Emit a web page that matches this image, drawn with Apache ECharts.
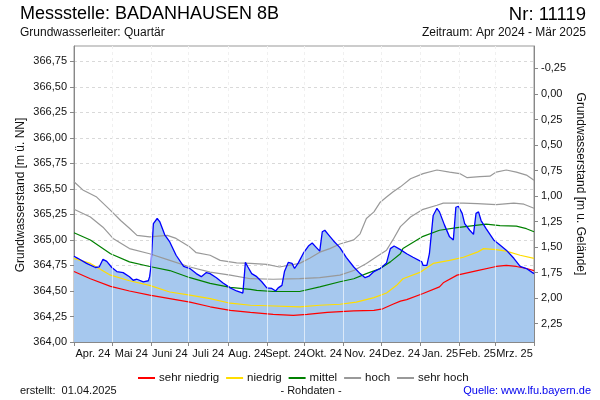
<!DOCTYPE html>
<html>
<head>
<meta charset="utf-8">
<script src="https://cdn.jsdelivr.net/npm/echarts@6/dist/echarts.min.js"></script>
<style>html,body{margin:0;padding:0;background:#fff}#c{width:600px;height:400px}</style>
</head>
<body>
<div id="c"></div>
<script>
// Days counted from 1 April 2024
const monthStarts = [0, 30, 61, 91, 122, 153, 183, 214, 244, 275, 306, 334, 365];
const monthLabels = ['Apr. 24', 'Mai 24', 'Juni 24', 'Juli 24', 'Aug. 24', 'Sept. 24', 'Okt. 24', 'Nov. 24', 'Dez. 24', 'Jan. 25', 'Feb. 25', 'Mrz. 25'];
const leftTicks = [364.00, 364.25, 364.50, 364.75, 365.00, 365.25, 365.50, 365.75, 366.00, 366.25, 366.50, 366.75];
const rightTicks = [-0.25, 0.00, 0.25, 0.50, 0.75, 1.00, 1.25, 1.50, 1.75, 2.00, 2.25];
const groundLevel = 366.43;

// Measured groundwater level (m ü. NN)
const levelDays = [0, 3, 10, 17, 20, 23, 26, 30, 34, 39, 44, 47, 50, 55, 59, 60, 61, 63, 66, 68, 72, 76, 81, 87, 92, 97, 101, 105, 108, 113, 118, 124, 129, 134, 135, 136, 138, 141, 145, 149, 153, 157, 160, 162, 165, 167, 170, 173, 175, 178, 182, 186, 189, 192, 195, 197, 199, 202, 206, 211, 216, 222, 227, 231, 234, 238, 243, 248, 251, 254, 259, 264, 269, 276, 277, 280, 282, 285, 288, 290, 294, 298, 301, 303, 305, 308, 310, 314, 317, 319, 321, 323, 327, 333, 338, 343, 349, 354, 359, 365];
const levelValues = [364.84, 364.82, 364.77, 364.73, 364.735, 364.81, 364.79, 364.73, 364.69, 364.68, 364.64, 364.605, 364.615, 364.59, 364.60, 364.64, 364.735, 365.16, 365.21, 365.18, 365.05, 364.98, 364.85, 364.74, 364.72, 364.67, 364.64, 364.68, 364.67, 364.63, 364.58, 364.53, 364.50, 364.48, 364.48, 364.78, 364.735, 364.67, 364.64, 364.59, 364.53, 364.525, 364.50, 364.53, 364.555, 364.69, 364.78, 364.77, 364.72, 364.775, 364.87, 364.94, 364.97, 364.93, 364.89, 365.08, 365.095, 365.05, 364.99, 364.925, 364.83, 364.735, 364.67, 364.63, 364.645, 364.69, 364.72, 364.775, 364.915, 364.94, 364.905, 364.865, 364.83, 364.785, 364.75, 364.75, 364.865, 365.24, 365.31, 365.275, 365.145, 365.03, 365.00, 365.32, 365.33, 365.26, 365.16, 365.095, 365.055, 365.26, 365.275, 365.19, 365.11, 365.00, 364.95, 364.90, 364.82, 364.74, 364.72, 364.67];

// Reference lines
const sehrHochDays = [0, 7, 18, 29, 37, 44, 50, 60, 74, 81, 92, 97, 108, 116, 129, 140, 153, 163, 179, 187, 195, 203, 211, 222, 227, 232, 238, 243, 248, 253, 259, 267, 277, 288, 298, 306, 312, 322, 330, 335, 343, 351, 359, 365];
const sehrHochValues = [365.57, 365.49, 365.42, 365.29, 365.19, 365.115, 365.045, 365.03, 365.045, 365.015, 364.93, 364.875, 364.85, 364.80, 364.775, 364.77, 364.76, 364.735, 364.77, 364.82, 364.88, 364.915, 364.96, 365.00, 365.06, 365.21, 365.275, 365.37, 365.42, 365.47, 365.52, 365.60, 365.65, 365.685, 365.665, 365.65, 365.61, 365.62, 365.625, 365.665, 365.685, 365.665, 365.635, 365.585];
const hochDays = [0, 13, 23, 31, 44, 60, 76, 92, 108, 124, 140, 158, 179, 195, 211, 222, 232, 240, 248, 251, 253, 259, 267, 277, 288, 293, 309, 320, 335, 349, 357, 365];
const hochValues = [365.30, 365.225, 365.125, 365.015, 364.915, 364.865, 364.80, 364.735, 364.685, 364.655, 364.62, 364.615, 364.62, 364.63, 364.655, 364.70, 364.77, 364.835, 364.90, 364.96, 365.00, 365.13, 365.225, 365.30, 365.34, 365.36, 365.36, 365.355, 365.345, 365.36, 365.35, 365.31];
const mittelDays = [0, 13, 29, 44, 60, 76, 92, 108, 124, 140, 145, 158, 179, 195, 211, 222, 232, 243, 251, 259, 261, 277, 290, 304, 317, 327, 338, 351, 359, 365];
const mittelValues = [365.07, 365.00, 364.865, 364.785, 364.74, 364.70, 364.63, 364.575, 364.535, 364.515, 364.505, 364.495, 364.495, 364.54, 364.59, 364.62, 364.67, 364.72, 364.785, 364.865, 364.915, 365.035, 365.095, 365.12, 365.14, 365.155, 365.14, 365.135, 365.11, 365.08];
const niedrigDays = [0, 13, 29, 44, 60, 76, 92, 108, 124, 140, 153, 179, 195, 211, 224, 238, 248, 256, 261, 275, 285, 298, 309, 320, 325, 335, 343, 354, 365];
const niedrigValues = [364.82, 364.77, 364.655, 364.60, 364.555, 364.49, 364.46, 364.425, 364.38, 364.36, 364.355, 364.345, 364.36, 364.37, 364.39, 364.435, 364.48, 364.555, 364.62, 364.685, 364.77, 364.80, 364.83, 364.88, 364.915, 364.905, 364.89, 364.85, 364.82];
const sehrNiedrigDays = [0, 13, 29, 44, 60, 76, 92, 108, 124, 140, 158, 174, 185, 201, 222, 238, 245, 253, 259, 264, 277, 290, 293, 304, 320, 335, 343, 351, 359, 365];
const sehrNiedrigValues = [364.69, 364.62, 364.545, 364.50, 364.46, 364.425, 364.39, 364.345, 364.31, 364.29, 364.27, 364.26, 364.27, 364.29, 364.305, 364.31, 364.325, 364.37, 364.40, 364.415, 364.475, 364.54, 364.58, 364.655, 364.70, 364.74, 364.75, 364.74, 364.72, 364.70];

const FONT = "'Liberation Sans', Arial, sans-serif";
const pairs = (d, v) => d.map((x, i) => [x, v[i]]);
const fmt = v => v.toFixed(2).replace('.', ',');
const monthMids = monthLabels.map((_, i) => (monthStarts[i] + monthStarts[i + 1]) / 2);

const chart = echarts.init(document.getElementById('c'), null, {renderer: 'canvas'});

function refLine(name, color, days, vals) {
  return {
    name: name, type: 'line', data: pairs(days, vals), showSymbol: false, symbol: 'none',
    z: 3, lineStyle: {color: color, width: 1.2}, itemStyle: {color: color}, silent: true
  };
}

chart.setOption({
  animation: false,
  textStyle: {fontFamily: FONT},
  grid: {left: 74, top: 46, width: 460, height: 296, show: true, borderColor: '#999', borderWidth: 1, backgroundColor: 'transparent'},
  xAxis: {
    type: 'value', min: 0, max: 365,
    axisLine: {onZero: false, lineStyle: {color: '#888'}},
    axisTick: {customValues: monthStarts, length: 4, lineStyle: {color: '#888'}},
    axisLabel: {customValues: monthMids, margin: 6, fontSize: 11, color: '#111', fontFamily: FONT,
      formatter: v => { const i = monthMids.findIndex(m => Math.abs(m - v) < 0.01); return i >= 0 ? monthLabels[i] : ''; }},
    splitLine: {show: true, lineStyle: {color: '#d9d9d9', type: [3, 3], width: 1}}
  },
  yAxis: [{
    type: 'value', min: 364, max: 366.9,
    axisLine: {show: true, onZero: false, lineStyle: {color: '#888'}},
    axisTick: {show: true, customValues: leftTicks, length: 4, lineStyle: {color: '#888'}},
    axisLabel: {customValues: leftTicks, formatter: fmt, fontSize: 11, color: '#111', margin: 7, fontFamily: FONT},
    splitLine: {show: true, lineStyle: {color: '#d9d9d9', type: [3, 3], width: 1}}
  }, {
    type: 'value', min: groundLevel - 366.9, max: groundLevel - 364, inverse: true, position: 'right',
    axisLine: {show: true, onZero: false, lineStyle: {color: '#888'}},
    axisTick: {show: true, customValues: rightTicks, length: 4, lineStyle: {color: '#888'}},
    axisLabel: {customValues: rightTicks, formatter: fmt, fontSize: 11, color: '#111', margin: 7, fontFamily: FONT},
    splitLine: {show: false}
  }],
  legend: {
    left: 133, top: 367, itemWidth: 17, itemHeight: 2, icon: 'rect', itemGap: 7,
    textStyle: {fontSize: 11.5, color: '#111', fontFamily: FONT, padding: [0, 0, 0, -1]},
    data: ['sehr niedrig', 'niedrig', 'mittel', 'hoch', 'sehr hoch']
  },
  graphic: [
    {type: 'text', left: 20, top: 5, style: {text: 'Messstelle: BADANHAUSEN 8B', font: '18px ' + FONT, fill: '#000'}},
    {type: 'text', right: 14, top: 5, style: {text: 'Nr: 11119', font: '18.5px ' + FONT, fill: '#000'}},
    {type: 'text', left: 20, top: 27, style: {text: 'Grundwasserleiter: Quartär', font: '12px ' + FONT, fill: '#111'}},
    {type: 'text', right: 14, top: 27, style: {text: 'Zeitraum: Apr 2024 - Mär 2025', font: '12px ' + FONT, fill: '#111'}},
    {type: 'text', x: 21, y: 195, rotation: Math.PI / 2, style: {text: 'Grundwasserstand [m ü. NN]', font: '12px ' + FONT, fill: '#111', align: 'center', verticalAlign: 'middle'}},
    {type: 'text', x: 580, y: 184, rotation: -Math.PI / 2, style: {text: 'Grundwasserstand [m u. Gelände]', font: '12px ' + FONT, fill: '#111', align: 'center', verticalAlign: 'middle'}},
    {type: 'text', left: 20, top: 385, style: {text: 'erstellt:  01.04.2025', font: '11px ' + FONT, fill: '#111'}},
    {type: 'text', x: 311, y: 391, style: {text: '- Rohdaten -', font: '11px ' + FONT, fill: '#111', align: 'center', verticalAlign: 'middle'}},
    {type: 'text', right: 9, top: 385, style: {text: 'Quelle: www.lfu.bayern.de', font: '11px ' + FONT, fill: '#0000ee'}}
  ],
  series: [
    {
      name: 'Fläche', type: 'line', data: pairs(levelDays, levelValues), showSymbol: false, symbol: 'none', z: 1, silent: true,
      lineStyle: {width: 0, color: '#A6C8EE'}, areaStyle: {color: '#A6C8EE', opacity: 1, origin: 'start'},
      markLine: {
        silent: true, symbol: ['none', 'none'], label: {show: false},
        lineStyle: {color: 'rgba(255,255,255,0.6)', type: 'solid', width: 1},
        data: monthStarts.slice(1, -1).map(d => ({xAxis: d}))
      }
    },
    refLine('sehr niedrig', '#ff0000', sehrNiedrigDays, sehrNiedrigValues),
    refLine('niedrig', '#ffdd00', niedrigDays, niedrigValues),
    refLine('mittel', '#008000', mittelDays, mittelValues),
    refLine('hoch', '#999999', hochDays, hochValues),
    refLine('sehr hoch', '#999999', sehrHochDays, sehrHochValues),
    {
      name: 'Messwert', type: 'line', data: pairs(levelDays, levelValues), showSymbol: false, symbol: 'none', z: 4, silent: true,
      lineStyle: {color: '#0000ff', width: 1.3}, itemStyle: {color: '#0000ff'}
    }
  ]
});
</script>
</body>
</html>
